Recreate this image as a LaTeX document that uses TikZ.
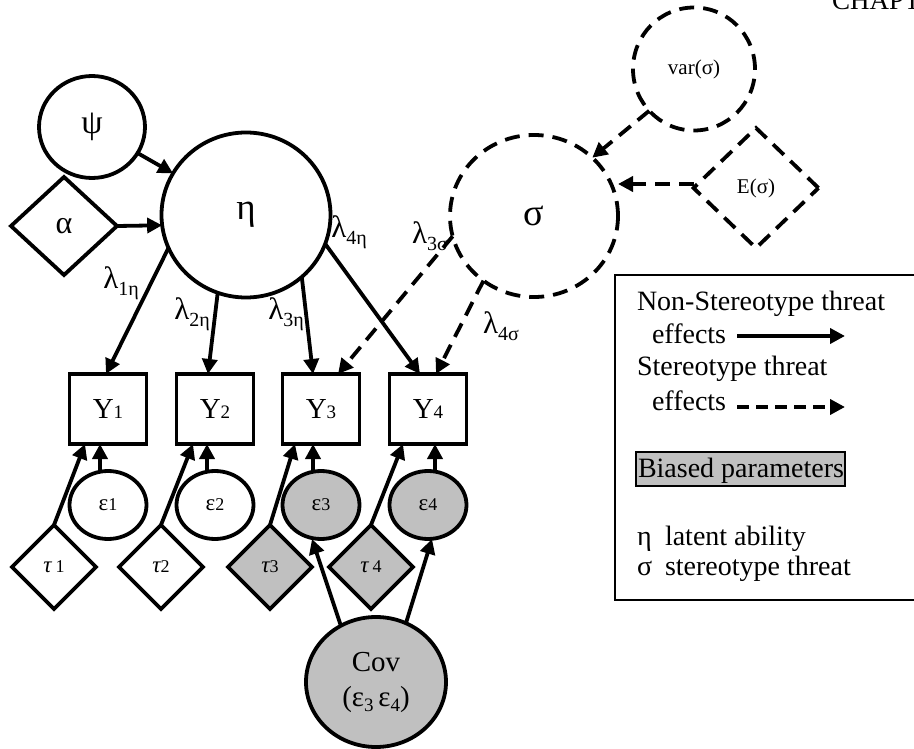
\documentclass[tikz,border=0pt]{standalone}
\usepackage{fontspec}
\setmainfont{Liberation Serif}
\usetikzlibrary{shapes.geometric,arrows.meta}
\definecolor{biasgray}{RGB}{192,192,192}
\newcommand{\myfs}[1]{\fontsize{#1}{#1}\selectfont}
\newcommand{\lam}[1]{λ\raisebox{-7pt}{\myfs{20}#1}}

\tikzset{
  every node/.style={inner sep=0pt, outer sep=0pt},
  shapeline/.style={draw, line width=3.8pt},
  latent/.style={shapeline, ellipse},
  observed/.style={shapeline, rectangle, minimum width=77pt, minimum height=70pt, font=\myfs{29}},
  constant/.style={shapeline, diamond},
  resid/.style={latent, minimum width=77pt, minimum height=68pt, font=\myfs{23}},
  intercept/.style={constant, minimum width=84pt, minimum height=84pt, font=\myfs{23}\itshape},
  stdash/.style={dash pattern=on 15pt off 9pt},
  biased/.style={fill=biasgray},
  effect/.style={line width=3.8pt, -{Triangle[length=15pt,width=15pt]}},
  lbl/.style={font=\myfs{31}},
  legendtext/.style={anchor=base west, font=\myfs{28}}
}

\begin{document}
\begin{tikzpicture}[x=1pt,y=-1pt]
\clip (0,0) rectangle (914,749);

% running header
\node[anchor=base west, font=\myfs{27}] (header) at (832,10) {CHAPT};

% latent ability part
\node[latent, minimum width=106pt, minimum height=102pt, font=\myfs{34}] (psi) at (92,127) {ψ};
\node[constant, minimum width=106pt, minimum height=98pt, font=\myfs{32}] (alpha) at (64,226) {α};
\node[latent, minimum width=169pt, minimum height=165pt, font=\myfs{37}] (eta) at (246,215) {η};

% stereotype threat part
\node[latent, stdash, minimum width=168pt, minimum height=162pt, font=\myfs{38}] (sigma) at (534,216) {σ};
\node[latent, stdash, minimum width=122pt, minimum height=123pt, font=\myfs{21}] (var) at (694,69) {var(σ)};
\node[constant, stdash, minimum width=125pt, minimum height=120pt, font=\myfs{21}] (Es) at (756,188) {E(σ)};

% indicators
\node[observed] (Y1) at (108,409) {Y{\myfs{19}1}};
\node[observed] (Y2) at (215,409) {Y{\myfs{19}2}};
\node[observed] (Y3) at (321,409) {Y{\myfs{19}3}};
\node[observed] (Y4) at (428,409) {Y{\myfs{19}4}};

% residuals
\node[resid] (e1) at (108,505) {ε{\myfs{18}1}};
\node[resid] (e2) at (215,505) {ε{\myfs{18}2}};
\node[resid, biased] (e3) at (321,505) {ε{\myfs{18}3}};
\node[resid, biased] (e4) at (428,505) {ε{\myfs{18}4}};

% intercepts
\node[intercept] (t1) at (54,567) {τ\,{\upshape\myfs{18}1}};
\node[intercept] (t2) at (161,567) {τ{\upshape\myfs{18}2}};
\node[intercept, biased] (t3) at (270,567) {τ{\upshape\myfs{18}3}};
\node[intercept, biased] (t4) at (371,567) {τ\,{\upshape\myfs{18}4}};

% residual covariance
\node[latent, biased, minimum width=140pt, minimum height=130pt, align=center,
      font=\fontsize{29}{35}\selectfont] (cov) at (376,682)
  {Cov\\(ε\raisebox{-5pt}{\myfs{19}3}\,ε\raisebox{-5pt}{\myfs{19}4})};

% paths into eta
\draw[effect] (psi) -- (eta);
\draw[effect] (alpha.east) -- (eta.187);

% loadings on eta
\draw[effect] (eta.203) -- ([xshift=-2pt]Y1.north);
\draw[effect] (eta.250) -- ([xshift=-7pt]Y2.north);
\draw[effect] (eta.312) -- ([xshift=-8pt]Y3.north);
\draw[effect] (eta.340) -- ([xshift=-8pt]Y4.north);

% loadings on sigma
\draw[effect, stdash] (sigma.194) -- ([xshift=17pt]Y3.north);
\draw[effect, stdash] (sigma.232) -- ([xshift=8pt]Y4.north);

% paths into sigma
\draw[effect, stdash] (var.223) -- (sigma.45);
\draw[effect, stdash] ([yshift=4pt]Es.west) -- ([yshift=4pt]Es.west -| sigma.east);

% residual and intercept paths
\draw[effect] ([xshift=-8pt]e1.north) -- ([xshift=-8pt]Y1.south);
\draw[effect] ([xshift=-8pt]e2.north) -- ([xshift=-8pt]Y2.south);
\draw[effect] ([xshift=-8pt]e3.north) -- ([xshift=-8pt]Y3.south);
\draw[effect] ([xshift=7pt]e4.north) -- ([xshift=7pt]Y4.south);
\draw[effect] (t1.north) -- ([xshift=-23pt]Y1.south);
\draw[effect] (t2.north) -- ([xshift=-22pt]Y2.south);
\draw[effect] (t3.north) -- ([xshift=-26pt]Y3.south);
\draw[effect] (t4.north) -- ([xshift=-25pt]Y4.south);
\draw[effect] (cov.122) -- ([xshift=-9pt]e3.south);
\draw[effect] (cov.63) -- ([xshift=4pt]e4.south);

% loading labels
\node[lbl] (l1e) at (121,283) {\lam{1η}};
\node[lbl] (l2e) at (192,314) {\lam{2η}};
\node[lbl] (l3e) at (286,314) {\lam{3η}};
\node[lbl] (l4e) at (349,232) {\lam{4η}};
\node[lbl] (l3s) at (430,236) {\lam{3σ}};
\node[lbl] (l4s) at (501,326) {\lam{4σ}};

% legend
\node[draw, line width=2pt, minimum width=330pt, minimum height=325pt, anchor=north west] (legend) at (615,275) {};
\node[legendtext] (lg1) at (637,310) {Non-Stereotype threat};
\node[legendtext] (lg2) at (652,343) {effects};
\coordinate (sa) at (737,336);
\coordinate (sb) at (845,336);
\draw[effect] (sa) -- (sb);
\node[legendtext] (lg3) at (637,375) {Stereotype threat};
\node[legendtext] (lg4) at (652,410) {effects};
\coordinate (da) at (737,407);
\coordinate (db) at (845,407);
\draw[effect, dash pattern=on 12pt off 7pt] (da) -- (db);
\node[draw, line width=2pt, fill=biasgray, minimum width=209pt, minimum height=34pt, anchor=north west] (biasbox) at (636,452) {};
\node[legendtext] (lg5) at (638,477) {Biased parameters};
\node[legendtext] (lg6) at (637,545) {η};
\node[legendtext] (lg7) at (665,545) {latent ability};
\node[legendtext] (lg8) at (637,575) {σ};
\node[legendtext] (lg9) at (665,575) {stereotype threat};
\end{tikzpicture}
\end{document}
